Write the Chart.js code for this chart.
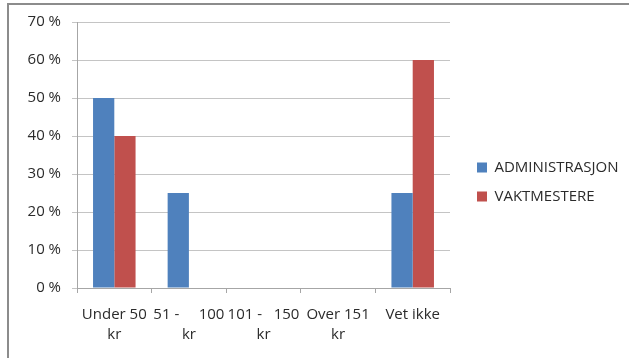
<!DOCTYPE html>
<html>
<head>
<meta charset="utf-8">
<script src="https://cdn.jsdelivr.net/npm/chart.js@4/dist/chart.umd.min.js"></script>
<style>
  html, body { margin: 0; padding: 0; background: #ffffff; }
  #wrap { position: relative; width: 629px; height: 358px; overflow: hidden; }
  #frame {
    position: absolute; left: 7px; top: 3px; right: -10px; bottom: -10px;
    border-top: 2px solid #8c8c8c; border-left: 2px solid #8c8c8c;
  }
  canvas { position: absolute; left: 0; top: 0; }
</style>
</head>
<body>
<div id="wrap">
  <div id="frame"></div>
  <canvas id="chart" width="629" height="358"></canvas>
</div>
<script>
// Price groups (kroner) and share of answers per group, in percent
const categories = [
  ["Under 50", "kr"],
  ["51 -     100", "kr"],
  ["101 -   150", "kr"],
  ["Over 151", "kr"],
  ["Vet ikke"]
];
const seriesNames = ["ADMINISTRASJON", "VAKTMESTERE"];
const administrasjon = [50, 25, 0, 0, 25];
const vaktmestere = [40, 0, 0, 0, 60];
const yTicks = [0, 10, 20, 30, 40, 50, 60, 70];

const FONT = "'Open Sans', 'Liberation Sans', sans-serif";
const SIZE = 15;
const TEXT = "#2b2b2b";
const LEGEND_PAD = 14;

async function draw() {
  try { await document.fonts.load(SIZE + "px 'Open Sans'"); } catch (e) {}

  // widest legend entry, so the legend box ends just after its text
  const m = document.createElement("canvas").getContext("2d");
  m.font = SIZE + "px " + FONT;
  const textW = Math.max(...seriesNames.map(t => m.measureText(t).width));
  const legendW = LEGEND_PAD * 2 + 10 + SIZE / 2 + textW;
  const legendLeft = 459;
  const padRight = 629 - legendLeft - legendW;

  new Chart(document.getElementById("chart"), {
    type: "bar",
    data: {
      labels: categories,
      datasets: [
        { label: seriesNames[0], data: administrasjon, backgroundColor: "#4F81BD" },
        { label: seriesNames[1], data: vaktmestere, backgroundColor: "#C0504D" }
      ]
    },
    options: {
      responsive: false,
      animation: false,
      devicePixelRatio: 1,
      layout: { padding: { left: 0, right: padRight, top: 22, bottom: 16 } },
      datasets: { bar: { categoryPercentage: 0.57, barPercentage: 1.0, borderWidth: 0 } },
      plugins: {
        tooltip: { enabled: false },
        legend: {
          position: "right",
          align: "center",
          maxWidth: 400,
          labels: {
            boxWidth: 10,
            boxHeight: 10,
            padding: LEGEND_PAD,
            color: TEXT,
            font: { family: FONT, size: SIZE }
          }
        }
      },
      scales: {
        x: {
          grid: { display: true, drawOnChartArea: false, drawTicks: true, tickLength: 5, offset: true, color: "#a6a6a6" },
          border: { display: true, color: "#a6a6a6", width: 1 },
          ticks: {
            color: TEXT,
            padding: 12,
            maxRotation: 0,
            autoSkip: false,
            font: { family: FONT, size: SIZE, lineHeight: 1.3 }
          },
          afterFit: (s) => { s.height = 54; }
        },
        y: {
          min: 0,
          max: 70,
          afterBuildTicks: (s) => { s.ticks = yTicks.map(v => ({ value: v })); },
          grid: { color: "#c4c4c4", drawTicks: true, tickLength: 5 },
          border: { display: true, color: "#a6a6a6", width: 1 },
          ticks: {
            color: TEXT,
            padding: 11,
            font: { family: FONT, size: SIZE },
            callback: (v) => v + " %"
          },
          afterFit: (s) => { s.width = 77; }
        },
        // empty strip between the plot and the legend
        gap: {
          type: "linear",
          position: "right",
          display: true,
          grid: { display: false },
          border: { display: false },
          ticks: { display: false },
          afterFit: (s) => { s.width = 13; }
        }
      }
    }
  });
}
draw();
</script>
</body>
</html>
